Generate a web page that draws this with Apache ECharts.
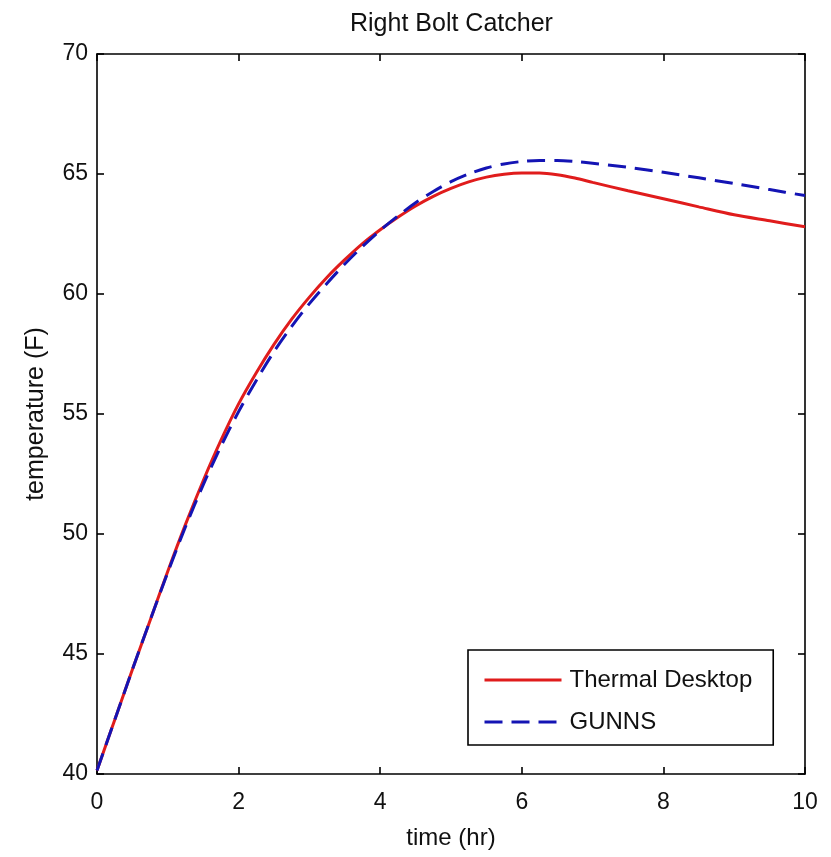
<!DOCTYPE html>
<html>
<head>
<meta charset="utf-8">
<script src="https://cdn.jsdelivr.net/npm/echarts@6/dist/echarts.min.js"></script>
<style>
html,body{margin:0;padding:0;background:#fff;}
#c{width:831px;height:857px;}
</style>
</head>
<body>
<div id="c"></div>
<script>
var timeHr = [0,0.25,0.5,0.75,1,1.25,1.5,1.75,2,2.25,2.5,2.75,3,3.25,3.5,3.75,4,4.25,4.5,4.75,5,5.25,5.5,5.75,6,6.25,6.5,6.75,7,7.5,8,8.5,9,9.5,10];
var thermalDesktop = [40.15,42.25,44.35,46.4,48.45,50.4,52.22,53.9,55.42,56.72,57.9,58.95,59.87,60.7,61.43,62.1,62.68,63.2,63.67,64.07,64.4,64.67,64.87,64.99,65.04,65.04,64.97,64.83,64.65,64.3,63.97,63.63,63.3,63.05,62.8];
var gunns = [40.15,42.25,44.35,46.4,48.4,50.3,52.05,53.65,55.1,56.4,57.6,58.65,59.6,60.45,61.25,61.98,62.65,63.25,63.8,64.27,64.68,65.0,65.25,65.42,65.52,65.56,65.56,65.52,65.45,65.28,65.07,64.84,64.6,64.35,64.1];
var xTicks = [0,2,4,6,8,10];
var yTicks = [40,45,50,55,60,65,70];

var FONT = 'Liberation Sans, Arial, sans-serif';
function pairs(xs, ys){ return xs.map(function(x,i){ return [x, ys[i]]; }); }

var chart = echarts.init(document.getElementById('c'), null, {renderer:'canvas'});
var lineCol = '#000';
function xAx(pos, show){
  return {
    type:'value', position:pos, min:xTicks[0], max:xTicks[xTicks.length-1], interval:xTicks[1]-xTicks[0],
    axisLine:{show:true, onZero:false, lineStyle:{color:lineCol, width:1.6}},
    axisTick:{show:true, inside:true, length:7, lineStyle:{color:lineCol, width:1.6}},
    axisLabel:{show:show, color:'#111', fontSize:23, fontFamily:FONT, margin:17},
    splitLine:{show:false},
    name: show ? 'time (hr)' : '', nameLocation:'middle', nameGap:52,
    nameTextStyle:{color:'#111', fontSize:24, fontFamily:FONT}
  };
}
function yAx(pos, show){
  return {
    type:'value', position:pos, min:yTicks[0], max:yTicks[yTicks.length-1], interval:yTicks[1]-yTicks[0],
    axisLine:{show:true, onZero:false, lineStyle:{color:lineCol, width:1.6}},
    axisTick:{show:true, inside:true, length:7, lineStyle:{color:lineCol, width:1.6}},
    axisLabel:{show:show, color:'#111', fontSize:23, fontFamily:FONT, margin:9},
    splitLine:{show:false},
    name: show ? 'temperature (F)' : '', nameLocation:'middle', nameGap:48,
    nameTextStyle:{color:'#111', fontSize:25, fontFamily:FONT}
  };
}

chart.setOption({
  backgroundColor:'#fff',
  animation:false,
  title:{text:'Right Bolt Catcher', left:345, top:7,
    textStyle:{color:'#111', fontSize:25, fontWeight:'normal', fontFamily:FONT}},
  grid:{left:97, right:26, top:54, bottom:83},
  xAxis:[xAx('bottom', true), xAx('top', false)],
  yAxis:[yAx('left', true), yAx('right', false)],
  legend:{
    orient:'vertical', left:468, top:650,
    padding:[18, 21, 11, 15], itemGap:18,
    itemWidth:77, itemHeight:14,
    borderColor:'#000', borderWidth:1.6, backgroundColor:'#fff',
    itemStyle:{opacity:0},
    lineStyle:{width:3},
    textStyle:{color:'#111', fontSize:24, fontFamily:FONT, padding:[0,0,0,3]},
    data:['Thermal Desktop','GUNNS']
  },
  series:[
    {name:'Thermal Desktop', type:'line', xAxisIndex:0, yAxisIndex:0,
     data:pairs(timeHr, thermalDesktop), smooth:0.3, showSymbol:false, symbol:'none',
     lineStyle:{color:'#e01c1c', width:3}, itemStyle:{color:'#e01c1c'}},
    {name:'GUNNS', type:'line', xAxisIndex:0, yAxisIndex:0,
     data:pairs(timeHr, gunns), smooth:0.3, showSymbol:false, symbol:'none',
     lineStyle:{color:'#1414b4', width:3, type:[18,9]}, itemStyle:{color:'#1414b4'}}
  ]
});
</script>
</body>
</html>
